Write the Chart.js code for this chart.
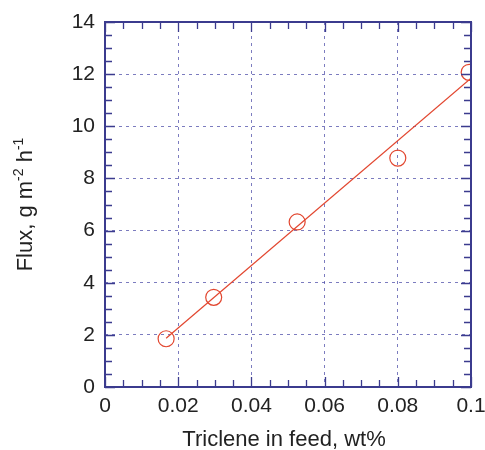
<!DOCTYPE html>
<html>
<head>
<meta charset="utf-8">
<script src="https://cdn.jsdelivr.net/npm/chart.js@4.4.0/dist/chart.umd.min.js"></script>
<style>
  html, body { margin: 0; padding: 0; background: #fff; }
  #wrap { width: 485px; height: 450px; }
</style>
</head>
<body>
<div id="wrap"><canvas id="flux"></canvas></div>
<script>
// measured flux vs triclene content in feed
const feedWt = [0.0167, 0.0297, 0.0525, 0.080, 0.0995]
const fluxVals = [1.85, 3.44, 6.33, 8.78, 12.07]
// straight-line fit drawn through the points
const fitX = [0.0167, 0.1]
const fitY = [1.87, 11.84]

const red = '#e2462f'
const axisBlue = '#3b3b8e'
const gridBlue = 'rgba(80,80,170,0.75)'
const font = "'Liberation Sans', Arial, sans-serif"

// box, inward ticks and axis titles
let frame = {
  id: 'frame',
  afterDraw(chart) {
    let ctx = chart.ctx
    let a = chart.chartArea
    let xs = chart.scales.x, ys = chart.scales.y
    ctx.save()
    ctx.strokeStyle = axisBlue
    ctx.lineWidth = 1.3
    ctx.beginPath()
    for (let v = 0; v <= 0.1001; v += 0.005) {
      let px = Math.round(xs.getPixelForValue(v)) + 0.5
      let len = (Math.round(v * 1000) % 20 == 0) ? 10 : 7
      ctx.moveTo(px, a.bottom); ctx.lineTo(px, a.bottom - len)
      ctx.moveTo(px, a.top); ctx.lineTo(px, a.top + len)
    }
    for (let v = 0; v <= 14.001; v += 0.5) {
      let py = Math.round(ys.getPixelForValue(v)) + 0.5
      let len = (Math.round(v * 10) % 20 == 0) ? 10 : 7
      ctx.moveTo(a.left, py); ctx.lineTo(a.left + len, py)
      ctx.moveTo(a.right, py); ctx.lineTo(a.right - len, py)
    }
    ctx.stroke()
    ctx.lineWidth = 2
    ctx.strokeRect(a.left, a.top, a.right - a.left, a.bottom - a.top)

    ctx.fillStyle = '#222'
    ctx.font = '22px ' + font
    ctx.textAlign = 'center'
    ctx.textBaseline = 'alphabetic'
    ctx.fillText('Triclene in feed, wt%', (a.left + a.right) / 2 - 4, 446)

    // y title with superscripts
    let parts = [['Flux, g m', 22, 0], ['-2', 14, 9], [' h', 22, 0], ['-1', 14, 9]]
    let total = 0
    parts.forEach(p => { ctx.font = p[1] + 'px ' + font; p.push(ctx.measureText(p[0]).width); total += p[3] })
    ctx.translate(32, (a.top + a.bottom) / 2)
    ctx.rotate(-Math.PI / 2)
    ctx.textAlign = 'left'
    let x = -total / 2
    parts.forEach(p => {
      ctx.font = p[1] + 'px ' + font
      ctx.fillText(p[0], x, -p[2])
      x += p[3]
    })
    ctx.restore()
  }
}

new Chart(document.getElementById('flux'), {
  type: 'scatter',
  data: {
    datasets: [{
      data: feedWt.map((v, i) => ({ x: v, y: fluxVals[i] })),
      borderColor: red,
      backgroundColor: 'rgba(0,0,0,0)',
      pointRadius: 8,
      pointBorderWidth: 1.2,
      showLine: false
    }, {
      data: fitX.map((v, i) => ({ x: v, y: fitY[i] })),
      borderColor: red,
      borderWidth: 1.2,
      pointRadius: 0,
      showLine: true
    }]
  },
  options: {
    responsive: true,
    maintainAspectRatio: false,
    animation: false,
    layout: { padding: { top: 22, right: 14, left: 0, bottom: 0 } },
    plugins: { legend: { display: false }, tooltip: { enabled: false } },
    scales: {
      x: {
        type: 'linear',
        min: 0,
        max: 0.1,
        afterFit: s => { s.height = 63; s.paddingLeft = 0; s.paddingRight = 0 },
        border: { display: false, dash: [3, 4] },
        grid: { color: gridBlue, drawTicks: false, lineWidth: 1 },
        ticks: {
          stepSize: 0.02,
          padding: 7,
          color: '#222',
          font: { family: font, size: 21 },
          callback: v => String(+v.toFixed(2))
        }
      },
      y: {
        min: 0,
        max: 14,
        afterFit: s => { s.width = 105; s.paddingTop = 0; s.paddingBottom = 0 },
        border: { display: false, dash: [3, 4] },
        grid: { color: gridBlue, drawTicks: false, lineWidth: 1 },
        ticks: {
          stepSize: 2,
          padding: 10,
          color: '#222',
          font: { family: font, size: 21 }
        }
      }
    }
  },
  plugins: [frame]
})
</script>
</body>
</html>
